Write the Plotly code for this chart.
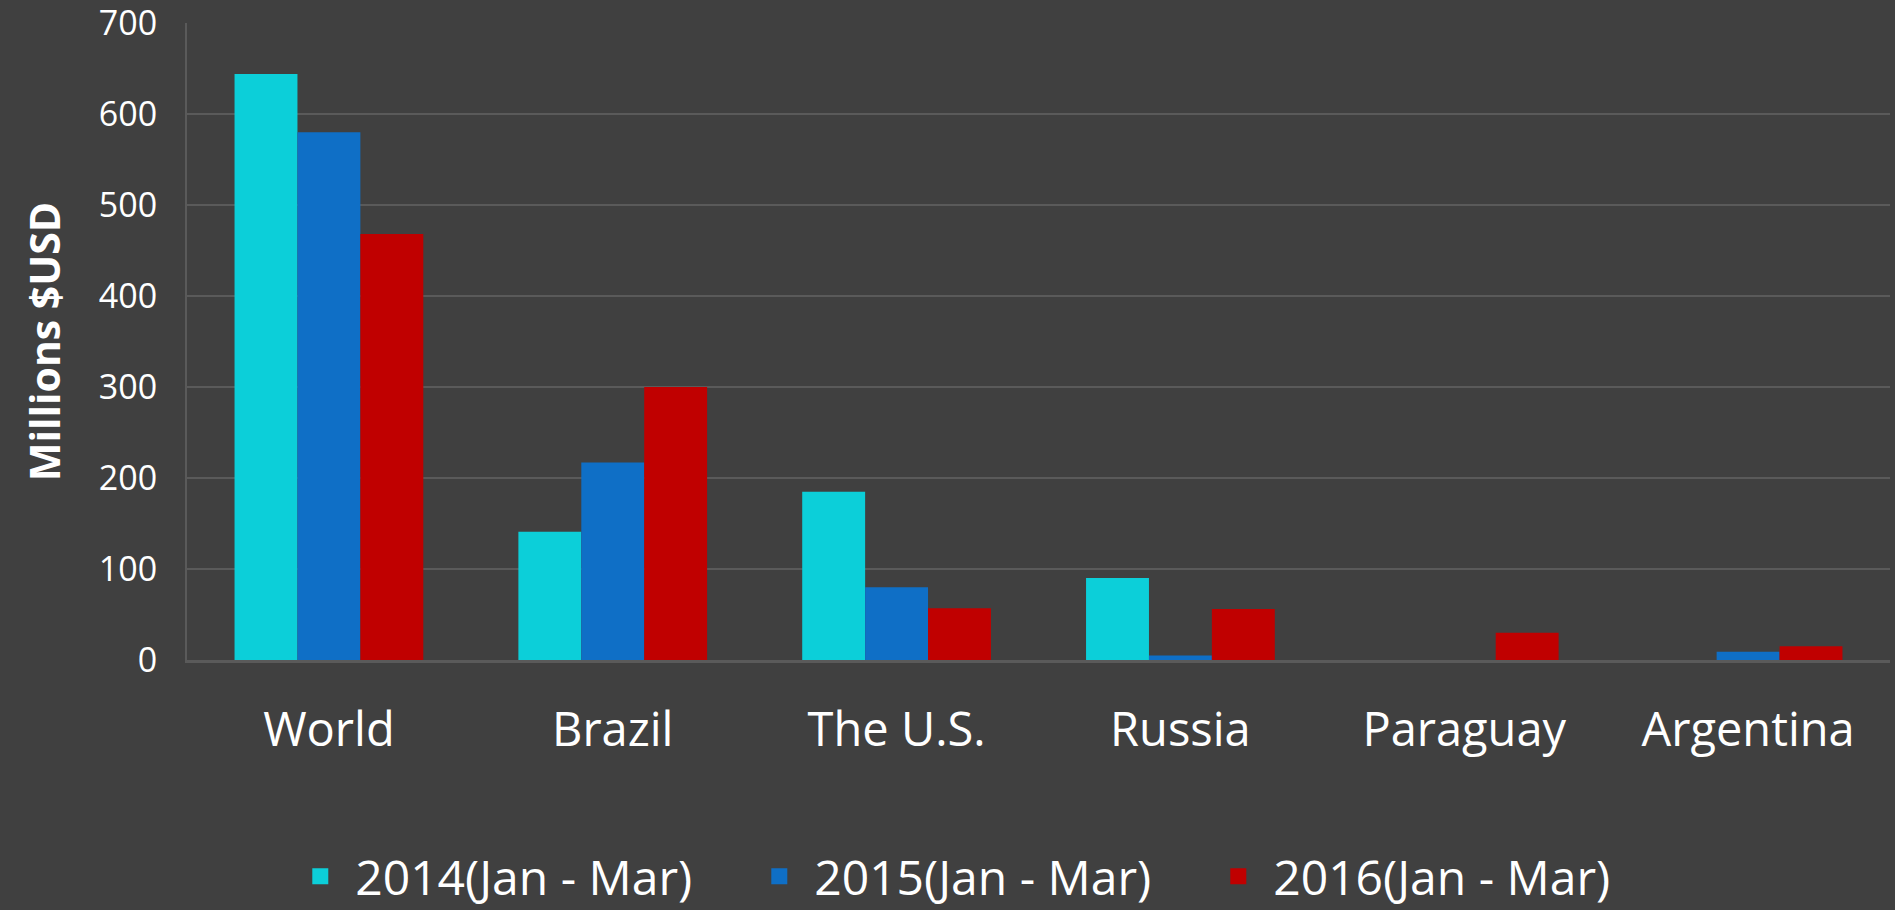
import plotly.graph_objects as go

categories = ["World", "Brazil", "The U.S.", "Russia", "Paraguay", "Argentina"]
series_names = ["2014(Jan - Mar)", "2015(Jan - Mar)", "2016(Jan - Mar)"]
v2014 = [644, 141, 185, 90, 0, 0]
v2015 = [580, 217, 80, 5, 0, 9]
v2016 = [468, 300, 57, 56, 30, 15]
y_ticks = [0, 100, 200, 300, 400, 500, 600, 700]
colors = ["#0CCFD9", "#0F6FC6", "#C00000"]

BG = "#404040"
GRID = "#5A5A5A"
FONT = "Open Sans"

fig = go.Figure()
for name, vals, col in zip(series_names, [v2014, v2015, v2016], colors):
    fig.add_trace(go.Bar(x=categories, y=vals, name=name, marker=dict(color=col, line=dict(width=0)),
                         showlegend=False))
    fig.add_trace(go.Scatter(x=[None], y=[None], mode="markers", name=name,
                             marker=dict(symbol="square", size=30, color=col)))

fig.update_layout(
    width=1895, height=910,
    paper_bgcolor=BG, plot_bgcolor=BG,
    margin=dict(l=187, r=5, t=23, b=250, autoexpand=False),
    barmode="group", bargap=0.335, bargroupgap=0,
    font=dict(family=FONT, color="white"),
    legend=dict(orientation="h", x=0.462, xanchor="center", y=-0.34, yanchor="middle",
                font=dict(size=48, color="white", family=FONT),
                itemsizing="trace", tracegroupgap=0, itemwidth=60,
                entrywidth=384, entrywidthmode="pixels",
                bgcolor="rgba(0,0,0,0)"),
    showlegend=True,
)
fig.update_yaxes(range=[0, 700], tickvals=y_ticks, showgrid=True, gridcolor=GRID, gridwidth=2,
                 showline=True, linecolor=GRID, linewidth=2, zeroline=False,
                 ticks="outside", ticklen=21, tickcolor=BG, ticklabeloverflow="allow",
                 tickfont=dict(size=34, color="white", family=FONT),
                 title=dict(text="<b>Millions $USD</b>", font=dict(size=41, color="white", family=FONT),
                            standoff=26))
fig.update_xaxes(showline=True, linecolor=GRID, linewidth=3, showgrid=False,
                 ticks="outside", ticklen=27, tickcolor=BG,
                 tickfont=dict(size=47, color="white", family=FONT))

fig.write_html("out.html", config={"displayModeBar": False},
               post_script="document.body.style.margin='0';document.body.style.background='#404040';")
